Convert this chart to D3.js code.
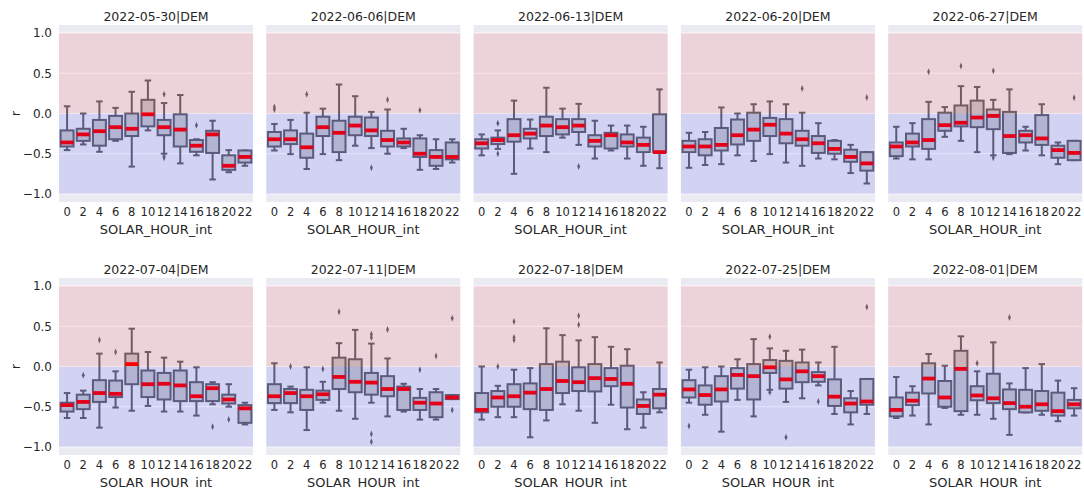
<!DOCTYPE html>
<html>
<head>
<meta charset="utf-8">
<script src="https://cdn.jsdelivr.net/npm/d3@7"></script>
<style>
  body { margin: 0; background: #fff; }
  text { font-family: "DejaVu Sans", sans-serif; fill: #262626; }
</style>
</head>
<body>
<div id="chart"></div>
<script>
// Categories
const hours = [0, 2, 4, 6, 8, 10, 12, 14, 16, 18, 20, 22];
const weekTitles = [
  '2022-05-30|DEM', '2022-06-06|DEM', '2022-06-13|DEM', '2022-06-20|DEM', '2022-06-27|DEM',
  '2022-07-04|DEM', '2022-07-11|DEM', '2022-07-18|DEM', '2022-07-25|DEM', '2022-08-01|DEM'
];
const yTicks = [-1.0, -0.5, 0.0, 0.5, 1.0];

// Box stats per hour: [whisker low, q1, median, q3, whisker high]
const w0530 = [
  [-0.455, -0.41, -0.36, -0.21, 0.09], [-0.385, -0.34, -0.26, -0.19, 0.0],
  [-0.476, -0.40, -0.22, -0.08, 0.15], [-0.34, -0.32, -0.17, -0.03, 0.07],
  [-0.66, -0.28, -0.19, 0.0, 0.27], [-0.21, -0.16, -0.01, 0.17, 0.41],
  [-0.50, -0.27, -0.17, -0.08, 0.13], [-0.62, -0.41, -0.20, -0.01, 0.23],
  [-0.52, -0.476, -0.40, -0.33, -0.32], [-0.82, -0.49, -0.26, -0.215, -0.09],
  [-0.73, -0.70, -0.65, -0.52, -0.455], [-0.65, -0.61, -0.54, -0.46, -0.46]
];
const w0606 = [
  [-0.46, -0.41, -0.32, -0.23, -0.13], [-0.505, -0.38, -0.32, -0.21, -0.08],
  [-0.69, -0.55, -0.42, -0.25, 0.01], [-0.505, -0.28, -0.17, -0.04, 0.06],
  [-0.58, -0.48, -0.24, -0.09, 0.36], [-0.40, -0.27, -0.15, -0.04, 0.215],
  [-0.43, -0.28, -0.21, -0.05, 0.02], [-0.50, -0.41, -0.33, -0.215, 0.05],
  [-0.43, -0.41, -0.36, -0.31, -0.19], [-0.70, -0.54, -0.50, -0.31, -0.27],
  [-0.69, -0.65, -0.54, -0.455, -0.32], [-0.61, -0.57, -0.54, -0.36, -0.32]
];
const w0613 = [
  [-0.52, -0.435, -0.37, -0.32, -0.26], [-0.44, -0.38, -0.33, -0.30, -0.21],
  [-0.75, -0.35, -0.27, -0.07, 0.16], [-0.435, -0.31, -0.25, -0.19, -0.075],
  [-0.48, -0.28, -0.15, -0.04, 0.32], [-0.30, -0.26, -0.17, -0.07, 0.06],
  [-0.39, -0.23, -0.15, -0.07, 0.12], [-0.56, -0.41, -0.34, -0.27, -0.09],
  [-0.46, -0.435, -0.27, -0.24, -0.15], [-0.56, -0.41, -0.36, -0.26, -0.15],
  [-0.65, -0.48, -0.39, -0.30, -0.165], [-0.68, -0.48, -0.48, -0.01, 0.30]
];
const w0620 = [
  [-0.675, -0.48, -0.41, -0.34, -0.24], [-0.64, -0.52, -0.41, -0.32, -0.23],
  [-0.63, -0.46, -0.39, -0.18, 0.075], [-0.52, -0.385, -0.27, -0.075, 0.0],
  [-0.59, -0.34, -0.20, 0.01, 0.115], [-0.505, -0.28, -0.14, -0.055, 0.15],
  [-0.61, -0.37, -0.25, -0.07, 0.115], [-0.65, -0.40, -0.32, -0.215, 0.01],
  [-0.56, -0.49, -0.37, -0.28, -0.12], [-0.57, -0.50, -0.44, -0.34, -0.33],
  [-0.74, -0.60, -0.54, -0.45, -0.39], [-0.87, -0.71, -0.62, -0.48, -0.48]
];
const w0627 = [
  [-0.56, -0.53, -0.41, -0.36, -0.165], [-0.57, -0.41, -0.36, -0.25, -0.12],
  [-0.57, -0.44, -0.33, -0.07, 0.145], [-0.29, -0.215, -0.145, 0.01, 0.08],
  [-0.34, -0.16, -0.115, 0.10, 0.34], [-0.48, -0.17, -0.05, 0.16, 0.33],
  [-0.52, -0.195, -0.03, 0.05, 0.17], [-0.505, -0.49, -0.28, 0.02, 0.30],
  [-0.46, -0.36, -0.27, -0.215, -0.165], [-0.52, -0.39, -0.31, -0.02, 0.115],
  [-0.63, -0.55, -0.455, -0.40, -0.36], [-0.58, -0.58, -0.49, -0.34, -0.34]
];
const w0704 = [
  [-0.64, -0.56, -0.48, -0.45, -0.33], [-0.64, -0.53, -0.44, -0.35, -0.30],
  [-0.76, -0.44, -0.33, -0.17, 0.16], [-0.51, -0.38, -0.34, -0.175, -0.06],
  [-0.55, -0.22, 0.03, 0.16, 0.47], [-0.49, -0.38, -0.22, -0.05, 0.18],
  [-0.56, -0.41, -0.215, -0.08, 0.11], [-0.56, -0.43, -0.235, -0.05, 0.06],
  [-0.61, -0.43, -0.37, -0.195, -0.01], [-0.47, -0.43, -0.27, -0.22, -0.195],
  [-0.50, -0.46, -0.41, -0.35, -0.22], [-0.72, -0.70, -0.52, -0.48, -0.45]
];
const w0711 = [
  [-0.54, -0.455, -0.37, -0.22, 0.04], [-0.57, -0.455, -0.33, -0.28, -0.25],
  [-0.79, -0.54, -0.37, -0.29, -0.01], [-0.45, -0.415, -0.345, -0.30, -0.19],
  [-0.55, -0.28, -0.13, 0.11, 0.29], [-0.65, -0.32, -0.19, 0.09, 0.455],
  [-0.45, -0.35, -0.20, -0.08, 0.285], [-0.62, -0.37, -0.28, -0.12, 0.10],
  [-0.56, -0.54, -0.28, -0.25, -0.215], [-0.66, -0.54, -0.45, -0.39, -0.28],
  [-0.66, -0.63, -0.46, -0.32, -0.28], [-0.405, -0.405, -0.385, -0.355, -0.355]
];
const w0718 = [
  [-0.66, -0.57, -0.54, -0.33, 0.0], [-0.63, -0.50, -0.385, -0.305, -0.24],
  [-0.63, -0.50, -0.37, -0.22, -0.04], [-0.88, -0.53, -0.325, -0.21, -0.02],
  [-0.67, -0.54, -0.28, 0.03, 0.475], [-0.47, -0.33, -0.18, 0.06, 0.39],
  [-0.55, -0.305, -0.195, -0.01, 0.325], [-0.70, -0.31, -0.145, 0.03, 0.365],
  [-0.475, -0.245, -0.155, -0.02, 0.245], [-0.78, -0.51, -0.215, 0.01, 0.215],
  [-0.76, -0.59, -0.49, -0.41, -0.32], [-0.57, -0.52, -0.35, -0.28, 0.05]
];
const w0725 = [
  [-0.45, -0.385, -0.285, -0.17, -0.04], [-0.60, -0.475, -0.355, -0.235, -0.01],
  [-0.81, -0.435, -0.285, -0.12, 0.0], [-0.415, -0.275, -0.105, -0.02, 0.09],
  [-0.62, -0.41, -0.12, 0.03, 0.34], [-0.29, -0.08, -0.01, 0.08, 0.225],
  [-0.44, -0.275, -0.16, 0.07, 0.195], [-0.395, -0.195, -0.06, 0.05, 0.21],
  [-0.235, -0.19, -0.12, -0.07, 0.05], [-0.59, -0.49, -0.375, -0.16, 0.245],
  [-0.72, -0.57, -0.46, -0.395, -0.305], [-0.59, -0.475, -0.435, -0.155, -0.155]
];
const w0801 = [
  [-0.64, -0.62, -0.54, -0.385, -0.13], [-0.61, -0.48, -0.425, -0.325, -0.245],
  [-0.72, -0.335, -0.15, 0.04, 0.155], [-0.515, -0.50, -0.385, -0.18, 0.01],
  [-0.60, -0.555, -0.03, 0.195, 0.375], [-0.60, -0.42, -0.36, -0.245, -0.06],
  [-0.65, -0.455, -0.395, -0.09, 0.30], [-0.85, -0.53, -0.455, -0.285, -0.21],
  [-0.57, -0.57, -0.50, -0.29, -0.02], [-0.60, -0.55, -0.47, -0.305, 0.03],
  [-0.68, -0.61, -0.555, -0.325, -0.175], [-0.61, -0.52, -0.47, -0.415, -0.27]
];

// Outliers per week: [hour, value]
const o0530 = [[12, 0.24], [12, -0.53], [12, -0.55], [16, -0.145]];
const o0606 = [[0, 0.08], [0, 0.05], [4, 0.24], [12, -0.675], [14, 0.17], [18, 0.04]];
const o0613 = [[2, -0.12], [2, -0.50], [12, -0.66]];
const o0620 = [[14, 0.31], [22, 0.20]];
const o0627 = [[4, 0.52], [8, 0.59], [12, 0.53], [12, -0.55], [22, 0.195]];
const o0704 = [[2, -0.11], [4, 0.33], [6, 0.18], [18, -0.75], [20, -0.66]];
const o0711 = [[2, 0.0], [6, -0.03], [8, 0.68], [12, 0.40], [12, 0.36], [12, -0.84],
  [12, -0.935], [14, 0.46], [18, -0.04], [20, 0.13], [22, 0.60], [22, -0.54]];
const o0718 = [[2, 0.0], [4, 0.56], [4, 0.36], [4, 0.33], [12, 0.63], [12, 0.52]];
const o0725 = [[0, -0.74], [10, 0.37], [10, -0.32], [12, -0.88], [16, -0.435], [22, 0.74]];
const o0801 = [[10, 0.04], [14, 0.61]];

const weekStats = [w0530, w0606, w0613, w0620, w0627, w0704, w0711, w0718, w0725, w0801];
const weekOutliers = [o0530, o0606, o0613, o0620, o0627, o0704, o0711, o0718, o0725, o0801];

// Layout
const width = 1084;
const height = 489;
const panelW = 194;
const panelH = 177;
const colX = [59, 266.3, 473.6, 680.9, 888.2];
const rowY = [25, 278];

const edgeColor = '#65656f';
const boxFill = '#c8c8cd';

const svg = d3.select('#chart')
  .append('svg')
  .attr('width', width)
  .attr('height', height);

const xScale = d3.scaleBand()
  .domain(hours)
  .range([0, panelW])
  .paddingInner(0)
  .paddingOuter(0);

const yScale = d3.scaleLinear()
  .domain([-1.1, 1.1])
  .range([panelH, 0]);

const boxW = xScale.bandwidth() * 0.8;
const capW = boxW * 0.5;

weekTitles.forEach((title, i) => {
  const col = i % 5;
  const row = Math.floor(i / 5);
  const g = svg.append('g')
    .attr('transform', `translate(${colX[col]}, ${rowY[row]})`);

  // Axes background
  g.append('rect')
    .attr('width', panelW)
    .attr('height', panelH)
    .attr('fill', '#eaeaf2');

  // Grid lines
  g.selectAll('.grid')
    .data(yTicks)
    .enter()
    .append('line')
    .attr('x1', 0)
    .attr('x2', panelW)
    .attr('y1', d => yScale(d))
    .attr('y2', d => yScale(d))
    .attr('stroke', '#fff')
    .attr('stroke-width', 1);

  const stats = weekStats[i];

  // One group per hour
  const boxes = g.selectAll('.box')
    .data(stats.map((s, j) => ({ hour: hours[j], s })))
    .enter()
    .append('g')
    .attr('class', 'box')
    .attr('transform', d => `translate(${xScale(d.hour) + xScale.bandwidth() / 2}, 0)`);

  // Whiskers
  boxes.append('line')
    .attr('x1', 0).attr('x2', 0)
    .attr('y1', d => yScale(d.s[0]))
    .attr('y2', d => yScale(d.s[1]))
    .attr('stroke', edgeColor)
    .attr('stroke-width', 2);

  boxes.append('line')
    .attr('x1', 0).attr('x2', 0)
    .attr('y1', d => yScale(d.s[3]))
    .attr('y2', d => yScale(d.s[4]))
    .attr('stroke', edgeColor)
    .attr('stroke-width', 2);

  // Caps
  [0, 4].forEach(k => {
    boxes.append('line')
      .attr('x1', -capW / 2).attr('x2', capW / 2)
      .attr('y1', d => yScale(d.s[k]))
      .attr('y2', d => yScale(d.s[k]))
      .attr('stroke', edgeColor)
      .attr('stroke-width', 2);
  });

  // Box body
  boxes.append('rect')
    .attr('x', -boxW / 2)
    .attr('width', boxW)
    .attr('y', d => yScale(d.s[3]))
    .attr('height', d => Math.max(0.5, yScale(d.s[1]) - yScale(d.s[3])))
    .attr('fill', boxFill)
    .attr('stroke', edgeColor)
    .attr('stroke-width', 2);

  // Median
  boxes.append('line')
    .attr('x1', -boxW / 2).attr('x2', boxW / 2)
    .attr('y1', d => yScale(d.s[2]))
    .attr('y2', d => yScale(d.s[2]))
    .attr('stroke', '#ff0000')
    .attr('stroke-width', 3.8);

  // Outliers
  g.selectAll('.outlier')
    .data(weekOutliers[i])
    .enter()
    .append('path')
    .attr('d', d3.symbol().type(d3.symbolDiamond).size(14))
    .attr('transform', d => `translate(${xScale(d[0]) + xScale.bandwidth() / 2}, ${yScale(d[1])}) scale(0.7, 1)`)
    .attr('fill', edgeColor);

  // Shaded bands
  g.append('rect')
    .attr('x', 0).attr('width', panelW)
    .attr('y', yScale(1)).attr('height', yScale(0) - yScale(1))
    .attr('fill', '#ff0000')
    .attr('fill-opacity', 0.1);

  g.append('rect')
    .attr('x', 0).attr('width', panelW)
    .attr('y', yScale(0)).attr('height', yScale(-1) - yScale(0))
    .attr('fill', '#0000ff')
    .attr('fill-opacity', 0.1);

  // X axis
  const xAxis = g.append('g')
    .attr('transform', `translate(0, ${panelH})`)
    .call(d3.axisBottom(xScale).tickSize(0).tickPadding(6));
  xAxis.select('.domain').remove();
  xAxis.selectAll('text')
    .style('font-size', '11.5px')
    .style('font-family', '"DejaVu Sans", sans-serif')
    .attr('fill', '#262626');

  g.append('text')
    .attr('x', panelW / 2)
    .attr('y', panelH + 32)
    .attr('text-anchor', 'middle')
    .style('font-size', '13px')
    .text('SOLAR_HOUR_int');

  // Y axis (first column only)
  if (col === 0) {
    const yAxis = g.append('g')
      .call(d3.axisLeft(yScale).tickValues(yTicks).tickSize(0).tickPadding(7)
        .tickFormat(d => d3.format('.1f')(d).replace('-', '\u2212')));
    yAxis.select('.domain').remove();
    yAxis.selectAll('text')
      .style('font-size', '12px')
      .style('font-family', '"DejaVu Sans", sans-serif')
      .attr('fill', '#262626');

    g.append('text')
      .attr('transform', `translate(-39, ${yScale(0)}) rotate(-90)`)
      .attr('text-anchor', 'middle')
      .style('font-size', '13px')
      .text('r');
  }

  // Title
  g.append('text')
    .attr('x', panelW / 2)
    .attr('y', -4)
    .attr('text-anchor', 'middle')
    .style('font-size', '12.5px')
    .text(title);
});
</script>
</body>
</html>
